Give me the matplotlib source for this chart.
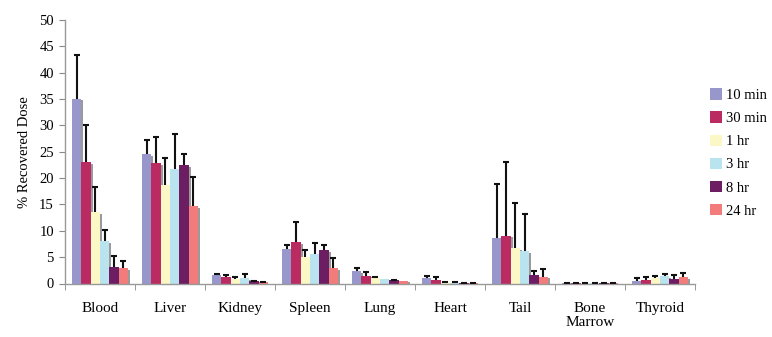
import matplotlib
matplotlib.use("Agg")
import matplotlib.pyplot as plt
import numpy as np
from matplotlib.patches import Patch

categories = ["Blood", "Liver", "Kidney", "Spleen", "Lung", "Heart", "Tail", "Bone\nMarrow", "Thyroid"]
series = ["10 min", "30 min", "1 hr", "3 hr", "8 hr", "24 hr"]
colors = ["#9797CB", "#BA2B62", "#FBF8C6", "#B9E3EE", "#6D1D62", "#F27B7C"]

# mean values per series (rows) across categories (columns)
values = [
    [35.1, 24.5, 1.65, 6.5, 2.3, 0.95, 8.6, 0.10, 0.50],   # 10 min
    [23.0, 22.9, 1.15, 7.85, 1.5, 0.65, 9.1, 0.10, 0.75],  # 30 min
    [13.6, 18.7, 0.80, 5.1, 1.1, 0.20, 6.8, 0.10, 0.95],   # 1 hr
    [8.0, 21.7, 0.95, 5.6, 0.9, 0.15, 6.2, 0.10, 1.45],    # 3 hr
    [3.1, 22.5, 0.50, 6.3, 0.6, 0.10, 1.6, 0.10, 0.90],    # 8 hr
    [2.9, 14.7, 0.30, 3.0, 0.55, 0.10, 1.3, 0.10, 1.15],   # 24 hr
]
# upper end of error bars
err_top = [
    [43.3, 27.3, 1.85, 7.3, 3.0, 1.4, 18.9, 0.18, 0.95],
    [30.1, 27.8, 1.6, 11.6, 2.15, 1.15, 23.1, 0.18, 1.15],
    [18.3, 23.9, 1.15, 6.45, 1.2, 0.28, 15.2, 0.18, 1.4],
    [10.1, 28.3, 1.8, 7.6, 0.9, 0.22, 13.1, 0.18, 1.85],
    [5.3, 24.6, 0.55, 7.3, 0.65, 0.18, 2.3, 0.18, 1.65],
    [4.3, 20.2, 0.35, 4.8, 0.55, 0.18, 2.8, 0.18, 1.9],
]
yticks = [0, 5, 10, 15, 20, 25, 30, 35, 40, 45, 50]

plt.rcParams["font.family"] = ["Liberation Serif", "DejaVu Serif"]

fig = plt.figure(figsize=(7.72, 3.37), dpi=100)
ax = fig.add_axes([65 / 772, (337 - 283.5) / 337, 630 / 772, 263.5 / 337])

n = len(series)
x = np.arange(len(categories))
group = 0.8
w = group / n
cap = 0.045
for i in range(n):
    xpos = x - group / 2 + w * (i + 0.5)
    v = np.array(values[i])
    top = np.maximum(np.array(err_top[i]), v)
    # shadow
    ax.bar(xpos + 0.03, np.clip(v - 0.35, 0, None), width=w, color="#9a9a9a",
           zorder=1, linewidth=0)
    ax.bar(xpos, v, width=w, color=colors[i], zorder=2, linewidth=0)
    has = top - v > 0.02
    ax.vlines(xpos[has], v[has], top[has], colors="#111111", linewidth=1.5, zorder=4)
    ax.hlines(top[has], xpos[has] - cap, xpos[has] + cap, colors="#111111",
              linewidth=1.5, zorder=4)

ax.set_xlim(-0.5, len(categories) - 0.5)
ax.set_ylim(0, 50)
ax.set_yticks(yticks)
ax.set_yticklabels([str(t) for t in yticks], fontsize=10.5)
ax.set_xticks(x)
ax.set_xticklabels(categories, fontsize=11, linespacing=1.1)
ax.set_xticks(np.arange(-0.5, len(categories)), minor=True)
ax.tick_params(axis="x", which="major", length=0, pad=13.5)
ax.tick_params(axis="x", which="minor", length=4, color="#888888", direction="out")
ax.tick_params(axis="y", length=4, color="#888888", direction="out", pad=4)
for s in ["top", "right"]:
    ax.spines[s].set_visible(False)
for s in ["left", "bottom"]:
    ax.spines[s].set_color("#999999")
    ax.spines[s].set_linewidth(1)
ax.set_ylabel("% Recovered Dose", fontsize=10.5, labelpad=6)

handles = [Patch(facecolor=c, edgecolor="none") for c in colors]
fig.legend(handles, series, loc="center left", bbox_to_anchor=(700 / 772, (337 - 153) / 337),
           frameon=False, fontsize=10.5, handlelength=0.8, handleheight=0.8,
           handletextpad=0.3, labelspacing=0.65, borderpad=0.2)

fig.savefig("out.png", dpi=100)
